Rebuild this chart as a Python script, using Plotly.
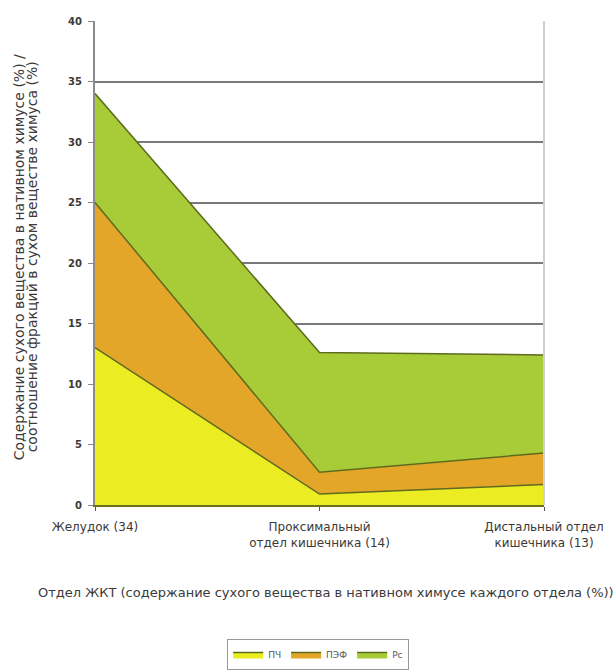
import plotly.graph_objects as go

# Отделы ЖКТ (подписи оси X)
sections = ["Желудок (34)", "Проксимальный<br>отдел кишечника (14)", "Дистальный отдел<br>кишечника (13)"]
positions = [0, 1, 2]

# Фракции сухого вещества, % (значения складываются в стопку)
pch = [13.0, 0.9, 1.7]
pef = [12.0, 1.8, 2.6]
rs = [9.0, 9.9, 8.1]

series_names = ["ПЧ", "ПЭФ", "Рс"]
fill_colors = ["#ECEC22", "#E3A628", "#A8CC38"]
edge_color = "#5E6B1E"

fig = go.Figure()
for name, vals, col in zip(series_names, [pch, pef, rs], fill_colors):
    fig.add_trace(go.Scatter(
        x=positions, y=vals, name=name, mode="lines",
        stackgroup="one", fillcolor=col,
        line=dict(color=edge_color, width=1.5),
    ))

family = "DejaVu Sans, Liberation Sans, Arial, sans-serif"
txt = "#3a3a3a"

fig.update_layout(
    width=615, height=670,
    margin=dict(l=95, r=71, t=21, b=165, autoexpand=False),
    paper_bgcolor="white", plot_bgcolor="white",
    font=dict(family=family, size=11, color=txt),
    showlegend=True,
    legend=dict(
        orientation="h", x=0.497, xanchor="center",
        yref="container", y=0.0, yanchor="bottom",
        traceorder="normal",
        bordercolor="#999999", borderwidth=1, bgcolor="white",
        font=dict(size=9, color="#555555"), itemwidth=30,
    ),
    xaxis=dict(
        range=[0, 2], tickvals=positions, ticktext=sections,
        showgrid=False, zeroline=False,
        showline=True, linecolor="#6B7020", linewidth=2,
        ticks="outside", ticklen=4, tickcolor="#555555",
        ticklabelstandoff=6, automargin=False,
        tickfont=dict(size=12, color=txt),
    ),
    yaxis=dict(
        range=[0, 40], dtick=5, showgrid=True, gridcolor="#7A7A7A", gridwidth=2,
        zeroline=False, showline=True, linecolor="#8A8A8A", linewidth=2,
        ticks="outside", ticklen=5, tickcolor="#8A8A8A",
        ticklabelstandoff=4, automargin=False,
        tickfont=dict(size=10, color=txt, weight="bold"),
    ),
    annotations=[
        dict(
            text="Содержание сухого вещества в нативном химусе (%) /",
            xref="paper", yref="paper", x=-0.169, y=0.512,
            textangle=-90, showarrow=False, font=dict(size=14, color=txt),
            xanchor="center", yanchor="middle",
        ),
        dict(
            text="соотношение фракций в сухом веществе химуса (%)",
            xref="paper", yref="paper", x=-0.140, y=0.512,
            textangle=-90, showarrow=False, font=dict(size=14, color=txt),
            xanchor="center", yanchor="middle",
        ),
        dict(
            text="Отдел ЖКТ (содержание сухого вещества в нативном химусе каждого отдела (%))",
            xref="paper", yref="paper", x=0.514, y=-0.180,
            showarrow=False, font=dict(size=13, color=txt),
            xanchor="center", yanchor="middle",
        ),
    ],
    shapes=[
        dict(type="line", xref="paper", yref="paper", x0=1, x1=1, y0=0, y1=1,
             line=dict(color="#D0D0D0", width=2)),
    ],
)

fig.write_html("out.html")
